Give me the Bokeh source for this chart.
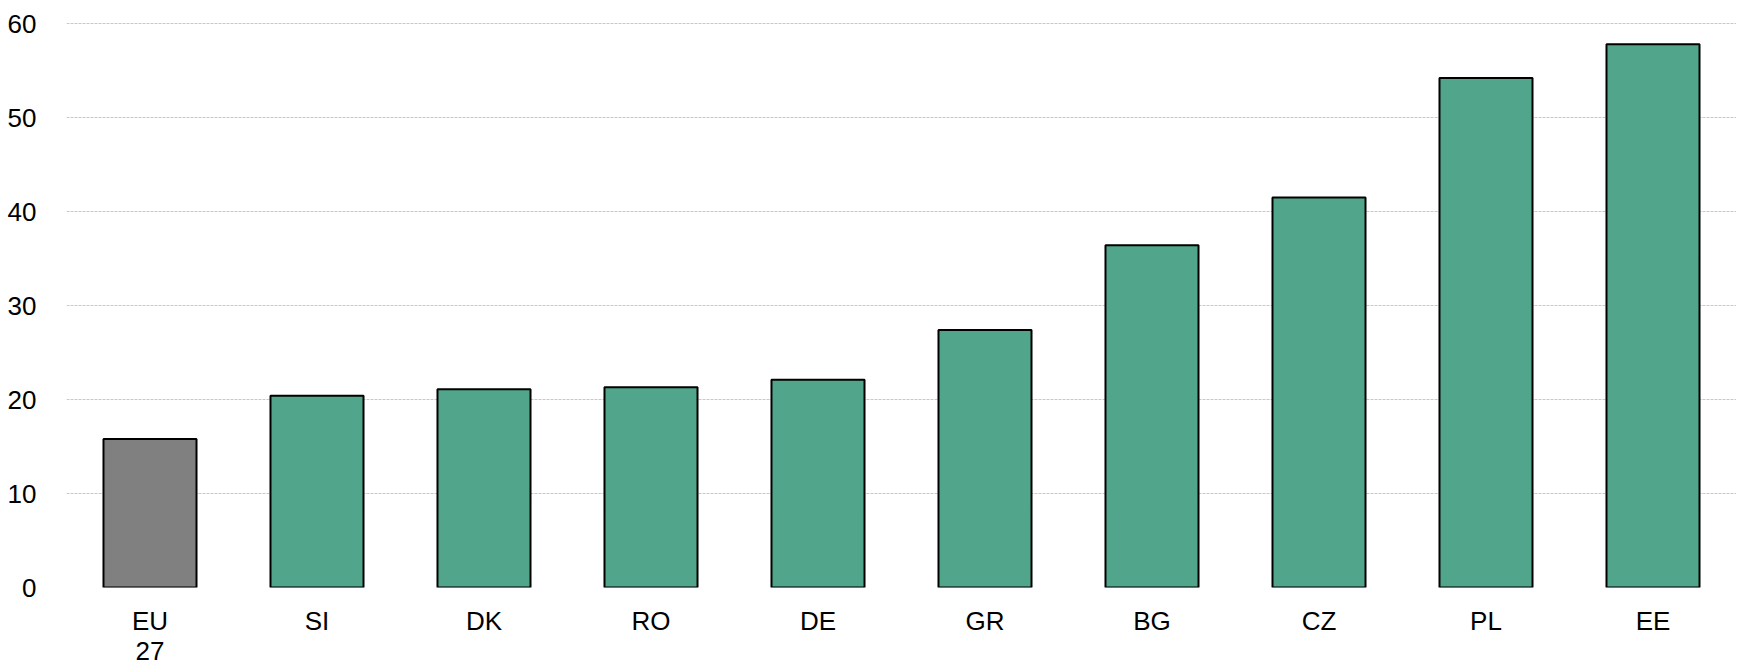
from bokeh.plotting import figure
from bokeh.models import ColumnDataSource, FactorRange, Range1d, FixedTicker
from bokeh.embed import file_html
from bokeh.resources import INLINE

categories = ["EU\n27", "SI", "DK", "RO", "DE", "GR", "BG", "CZ", "PL", "EE"]
values = [15.8, 20.4, 21.1, 21.3, 22.1, 27.4, 36.4, 41.5, 54.2, 57.8]
colors = ["#808080"] + ["#51a58b"] * 9
y_ticks = [0, 10, 20, 30, 40, 50, 60]

src = ColumnDataSource(dict(cat=categories, val=values, col=colors))

p = figure(frame_width=1670, frame_height=567, output_backend="svg", toolbar_location=None,
           x_range=FactorRange(*categories, range_padding=0),
           y_range=Range1d(0, 60.32),
           min_border_left=66, min_border_right=0, min_border_top=20, min_border_bottom=0)

p.vbar(x="cat", top="val", width=0.557, bottom=0, source=src,
       fill_color="col", line_color="black", line_width=2)

p.outline_line_color = None
p.xgrid.grid_line_color = None
p.ygrid.grid_line_color = "#c8c8c8"
p.ygrid.grid_line_dash = "3 1"
p.ygrid.grid_line_width = 1
p.yaxis.ticker = FixedTicker(ticks=y_ticks)

for ax in (p.xaxis, p.yaxis):
    ax.axis_line_color = None
    ax.major_tick_line_color = None
    ax.minor_tick_line_color = None
    ax.major_label_text_font = "Liberation Sans"
    ax.major_label_text_font_size = "26px"
    ax.major_label_text_color = "black"

p.yaxis.major_label_standoff = 24
p.xaxis.major_label_standoff = 12
p.xaxis.major_label_text_line_height = 1.0

open("out.html", "w").write(file_html(p, INLINE))
